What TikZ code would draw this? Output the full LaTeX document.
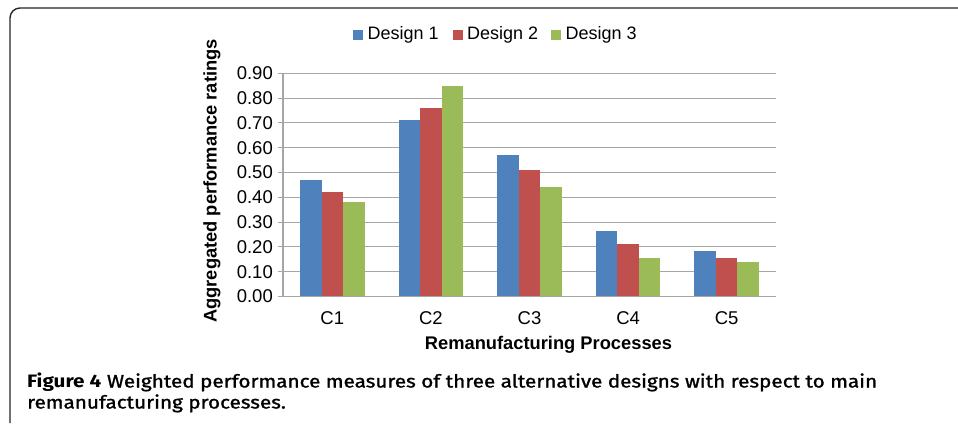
\documentclass[tikz,border=0pt]{standalone}
\usepackage{fontspec}
\usepackage{graphicx}
\setmainfont{Liberation Sans}
\newfontfamily\capfont{Fira Sans}[FakeBold=1.2]
\newfontfamily\capbold{Fira Sans}[UprightFont=*-Bold]
\definecolor{dA}{HTML}{4F81BD}
\definecolor{dB}{HTML}{C0504D}
\definecolor{dC}{HTML}{9BBB59}
\definecolor{gridc}{HTML}{A6A6A6}
\definecolor{capc}{HTML}{231F20}
\tikzset{
  gridline/.style={draw=gridc, line width=1.1pt},
  frameline/.style={draw=black!85, line width=1.4pt, rounded corners=10pt},
  ticklab/.style={anchor=east, inner sep=0pt, font=\fontsize{18.5}{20}\selectfont},
  catlab/.style={inner sep=0pt, font=\fontsize{18.5}{20}\selectfont},
  legtext/.style={anchor=west, inner sep=0pt, font=\fontsize{18}{20}\selectfont},
  legkey/.style={minimum size=10pt, inner sep=0pt},
  axtitle/.style={inner sep=0pt, font=\bfseries\fontsize{18.3}{20}\selectfont},
  caption/.style={anchor=base west, inner sep=0pt, text=capc}
}
\newsavebox\capboxA
\newsavebox\capboxB
\begin{document}
\sbox\capboxA{\fontsize{18}{20}\selectfont{\capbold Figure 4} \capfont Weighted performance measures of three alternative designs with respect to main}%
\sbox\capboxB{\fontsize{18}{20}\selectfont\capfont remanufacturing processes.}%
\pgfmathsetmacro{\capsx}{850/\wd\capboxA}%
\begin{tikzpicture}[x=1pt,y=-1pt]
\useasboundingbox (0,0) rectangle (958,423);
\fill[white] (0,0) rectangle (958,423);
% frame
\draw[frameline] (10,423) -- (10,8) -- (958,8);
% grid and ticks
\foreach \v in {0,...,9}{
  \draw[gridline] (278,{296.5-\v*24.8}) -- (776,{296.5-\v*24.8});
  \node[ticklab] (t\v) at (273,{296.5-\v*24.8}) {0.\v0};
}
\draw[gridline] (283,{296.5-9*24.8}) -- (283,296.5);
% bars
\foreach \i/\a/\b/\c/\lab in {0/0.47/0.42/0.38/C1, 1/0.71/0.76/0.85/C2, 2/0.57/0.51/0.443/C3, 3/0.265/0.21/0.157/C4, 4/0.182/0.157/0.14/C5}{
  \pgfmathsetmacro{\cx}{283+(\i+0.5)*98.6}
  \fill[dA] ({\cx-32.25},296.5) rectangle ({\cx-10.75},{296.5-\a*248});
  \fill[dB] ({\cx-10.75},296.5) rectangle ({\cx+10.75},{296.5-\b*248});
  \fill[dC] ({\cx+10.75},296.5) rectangle ({\cx+32.25},{296.5-\c*248});
  \node[catlab] (cat\i) at (\cx,318) {\lab};
}
\draw[gridline] (278,296.5) -- (776,296.5);
% legend
\node[legkey, fill=dA] (k1) at (358,35) {};
\node[legtext] (l1) at (367.5,35) {Design 1};
\node[legkey, fill=dB] (k2) at (457.7,35) {};
\node[legtext] (l2) at (467,35) {Design 2};
\node[legkey, fill=dC] (k3) at (556,35) {};
\node[legtext] (l3) at (565.5,35) {Design 3};
% axis titles
\node[axtitle, rotate=90] (ytitle) at (212,181) {Aggregated performance ratings};
\node[axtitle] (xtitle) at (548.5,345) {Remanufacturing Processes};
% caption
\node[caption] (cap1) at (27,387.5) {\scalebox{\capsx}[1]{\usebox\capboxA}};
\node[caption] (cap2) at (27,408.5) {\scalebox{\capsx}[1]{\usebox\capboxB}};
\end{tikzpicture}
\end{document}
